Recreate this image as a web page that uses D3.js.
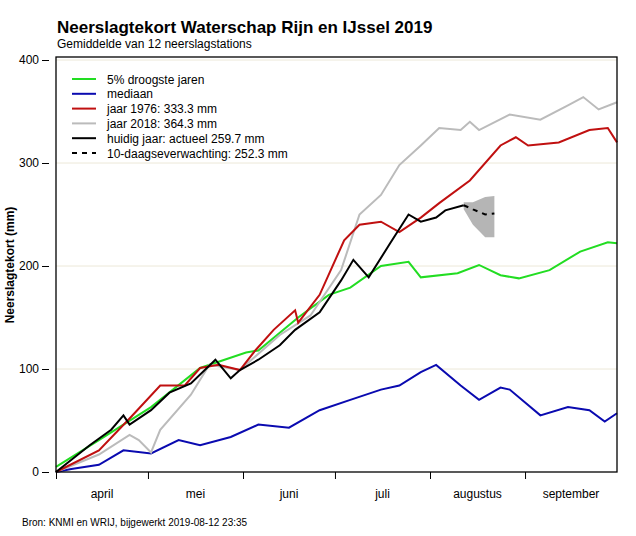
<!DOCTYPE html>
<html><head><meta charset="utf-8">
<script src="https://cdn.jsdelivr.net/npm/d3@7/dist/d3.min.js"></script>
<style>body{margin:0;background:#fff}text{font-family:Arial,"Liberation Sans",sans-serif}</style>
</head><body><svg id="c" width="636" height="536"></svg>
<script>
// x values: days since 1 April
const months = ["april","mei","juni","juli","augustus","september"];
const monthStarts = [0,30,61,91,122,153,183];
const yTicks = [0,100,200,300,400];
const droog = [[0,5],[14,31],[31,63],[47,101],[62,116],[66,118],[79,150],[89,172],[96,179],[106,200],[115,204],[119,189],[131,193],[138,201],[145,191],[151,188],[161,196],[171,214],[180,223],[183,222]];
const mediaan = [[0,0],[5,3],[14,7],[22,21],[31,18],[40,31],[47,26],[57,34],[66,46],[76,43],[86,60],[96,70],[106,80],[112,84],[119,97],[124,104],[132,84],[138,70],[145,82],[148,80],[158,55],[167,63],[174,60],[179,49],[183,57]];
const j1976 = [[0,0],[14,21],[24,52],[34,84],[42,84],[47,101],[53,104],[60,99],[65,118],[71,138],[78,157],[79,145],[86,172],[94,225],[99,240],[106,243],[112,233],[119,247],[125,261],[135,283],[145,317],[150,325],[154,317],[164,320],[174,332],[180,334],[183,320]];
const j2018 = [[0,0],[14,17],[24,36],[27,31],[31,19],[34,41],[44,75],[50,104],[60,99],[73,133],[83,152],[93,196],[99,250],[106,269],[112,298],[119,317],[125,334],[132,332],[135,340],[138,332],[148,347],[158,342],[167,356],[172,364],[177,352],[183,359]];
const huidig = [[0,0],[11,26],[18,41],[22,55],[24,46],[31,60],[37,77],[44,86],[52,109],[57,91],[60,99],[66,109],[73,123],[78,138],[86,155],[93,186],[97,206],[102,189],[109,222],[115,250],[119,243],[124,247],[127,254],[133,259]];
const verwachting = [[133,259],[136,255],[140,250],[143,251]];
const bandUpper = [[133,262],[136,262],[140,267],[143,268]];
const bandLower = [[133,255],[136,240],[140,228],[143,228]];

const svg = d3.select("#c");
const m = {l:56,r:617,t:60,b:472};
const x = d3.scaleLinear().domain([0,183]).range([m.l,m.r]);
const y = d3.scaleLinear().domain([0,400]).range([m.b,m.t]);

svg.append("g").selectAll("line").data(yTicks.slice(1)).join("line")
 .attr("x1",m.l).attr("x2",m.r).attr("y1",d=>y(d)).attr("y2",d=>y(d))
 .attr("stroke","#ece8d8").attr("stroke-width",1);

const band = d3.area().x((d,i)=>x(d[0])).y0((d,i)=>y(bandLower[i][1])).y1(d=>y(d[1]));
svg.append("path").datum(bandUpper).attr("d",band).attr("fill","#b5b5b5");

const line = d3.line().x(d=>x(d[0])).y(d=>y(d[1]));
const series = [[droog,"#22dd22"],[mediaan,"#0a0ab0"],[j2018,"#bbbbbb"],[j1976,"#c01010"],[huidig,"#000"]];
series.forEach(([d,c])=>svg.append("path").datum(d).attr("d",line).attr("fill","none").attr("stroke",c).attr("stroke-width",2));
svg.append("path").datum(verwachting).attr("d",line).attr("fill","none").attr("stroke","#000").attr("stroke-width",2).attr("stroke-dasharray","5,5");

svg.append("rect").attr("x",m.l).attr("y",m.t-3).attr("width",m.r-m.l).attr("height",m.b-m.t+3).attr("fill","none").attr("stroke","#000").attr("stroke-width",1.3);

const ya = svg.append("g").attr("transform",`translate(${m.l-7},0)`).call(d3.axisLeft(y).tickValues(yTicks).tickSize(7).tickSizeOuter(0));
ya.select(".domain").remove();
ya.selectAll("text").attr("font-size",12).attr("fill","#000");
const xa = svg.append("g").attr("transform",`translate(0,${m.b})`).call(d3.axisBottom(x).tickValues(monthStarts.slice(0,6)).tickSize(7).tickFormat(""));
xa.select(".domain").remove();
svg.append("g").selectAll("text").data(months).join("text")
 .attr("x",(d,i)=>x((monthStarts[i]+monthStarts[i+1])/2)).attr("y",498).attr("text-anchor","middle").attr("font-size",12).text(d=>d);

svg.append("text").attr("x",57).attr("y",33).attr("font-size",17).attr("font-weight","bold").text("Neerslagtekort Waterschap Rijn en IJssel 2019");
svg.append("text").attr("x",57).attr("y",48).attr("font-size",12).text("Gemiddelde van 12 neerslagstations");
svg.append("text").attr("transform","translate(14,265) rotate(-90)").attr("text-anchor","middle").attr("font-size",12).attr("font-weight","bold").text("Neerslagtekort (mm)");
svg.append("text").attr("x",22).attr("y",526).attr("font-size",10).text("Bron: KNMI en WRIJ, bijgewerkt 2019-08-12 23:35");

const leg = [["5% droogste jaren","#22dd22",null],["mediaan","#0a0ab0",null],["jaar 1976: 333.3 mm","#c01010",null],["jaar 2018: 364.3 mm","#bbbbbb",null],["huidig jaar: actueel 259.7 mm","#000",null],["10-daagseverwachting: 252.3 mm","#000","5,5"]];
leg.forEach((l,i)=>{const yy=79+i*14.8;
 svg.append("line").attr("x1",72).attr("x2",96).attr("y1",yy).attr("y2",yy).attr("stroke",l[1]).attr("stroke-width",2).attr("stroke-dasharray",l[2]);
 svg.append("text").attr("x",107).attr("y",yy+4.5).attr("font-size",12).text(l[0]);});
</script></body></html>
